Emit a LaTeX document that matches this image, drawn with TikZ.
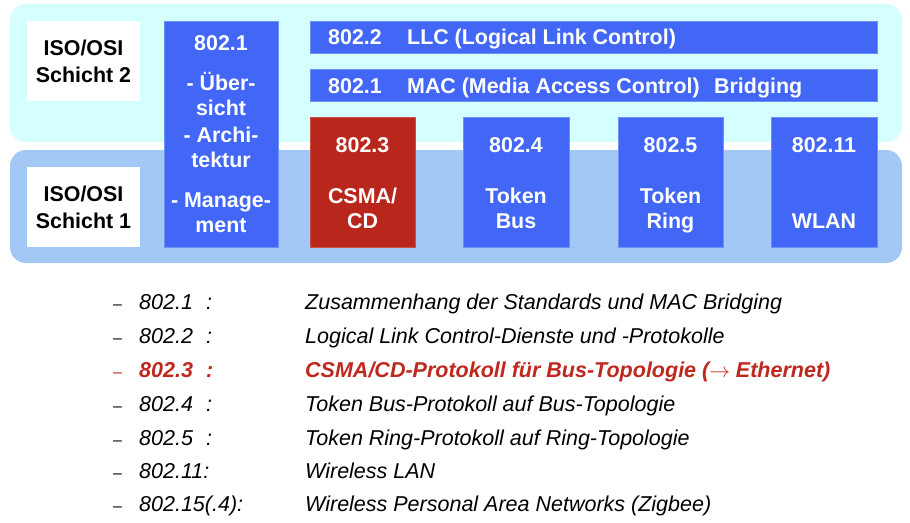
\documentclass[tikz,border=0pt]{standalone}
\usepackage{fontspec}
\setmainfont{Liberation Sans}
\definecolor{layertwo}{RGB}{213,254,254}
\definecolor{layerone}{RGB}{163,200,246}
\definecolor{stdblue}{RGB}{66,102,245}
\definecolor{stdedge}{RGB}{110,145,245}
\definecolor{stdred}{RGB}{185,38,27}
\definecolor{stdrededge}{RGB}{200,80,70}
\definecolor{listred}{RGB}{190,40,30}
\begin{document}
\begin{tikzpicture}[x=1pt,y=-1pt,
  layerbg/.style={rounded corners=16pt},
  stdbox/.style={fill=stdblue,draw=stdedge,line width=0.8pt,inner sep=0pt},
  redbox/.style={fill=stdred,draw=stdrededge,line width=0.8pt,inner sep=0pt},
  layerlabel/.style={fill=white,inner sep=0pt,minimum width=113pt,minimum height=80pt},
  labeltext/.style={font=\fontsize{21.4}{27}\selectfont\bfseries,align=center,inner sep=0pt},
  boxtext/.style={font=\fontsize{21.4}{24}\selectfont\bfseries,text=white,anchor=base,inner sep=0pt},
  bartext/.style={font=\fontsize{21.4}{24}\selectfont\bfseries,text=white,anchor=base west,inner sep=0pt},
  listtext/.style={font=\fontsize{21.5}{24}\selectfont\itshape,anchor=base west,inner sep=0pt},
  listdash/.style={font=\fontsize{16}{20}\selectfont,anchor=base west,inner sep=0pt},
  hilite/.style={text=listred,font=\fontsize{21.5}{24}\selectfont\bfseries\itshape}
]
\useasboundingbox (0,0) rectangle (910,522);
\fill[white] (0,0) rectangle (910,522);

% ISO/OSI layer bands
\fill[layertwo,layerbg] (10,4) rectangle (902,142);
\fill[layerone,layerbg] (10,150) rectangle (902,263);

% layer labels
\node[layerlabel] (lab2) at (83.5,61) {};
\node[labeltext] (lab2t) at (83.5,61.5) {ISO/OSI\\Schicht 2};
\node[layerlabel] (lab1) at (83.5,207) {};
\node[labeltext] (lab1t) at (83.5,207.5) {ISO/OSI\\Schicht 1};

% 802.1 overview column
\node[stdbox,minimum width=114pt,minimum height=226pt] (s8021) at (221,134) {};
\node[boxtext] (s8021a) at (221,50) {802.1};
\node[boxtext] (s8021b) at (221,90) {- Über-};
\node[boxtext] (s8021c) at (221,115) {sicht};
\node[boxtext] (s8021d) at (221,142) {- Archi-};
\node[boxtext] (s8021e) at (221,167) {tektur};
\node[boxtext] (s8021f) at (221,207) {- Manage-};
\node[boxtext] (s8021g) at (221,232) {ment};

% LLC and MAC bars
\node[stdbox,minimum width=567pt,minimum height=32pt] (llc) at (593.5,37) {};
\node[bartext] (llcnum) at (328,44) {802.2};
\node[bartext] (llcname) at (407,44) {LLC (Logical Link Control)};
\node[stdbox,minimum width=567pt,minimum height=32pt] (mac) at (593.5,85) {};
\node[bartext] (macnum) at (328,93) {802.1};
\node[bartext] (macname) at (407,93) {MAC (Media Access Control)};
\node[bartext] (macbridge) at (714,93) {Bridging};

% physical layer standards
\node[redbox,minimum width=105pt,minimum height=130pt] (s8023) at (362.5,182) {};
\node[boxtext] (s8023a) at (362.5,152) {802.3};
\node[boxtext] (s8023b) at (362.5,203) {CSMA/};
\node[boxtext] (s8023c) at (362.5,228) {CD};

\node[stdbox,minimum width=106pt,minimum height=130pt] (s8024) at (516,182) {};
\node[boxtext] (s8024a) at (516,152) {802.4};
\node[boxtext] (s8024b) at (516,203) {Token};
\node[boxtext] (s8024c) at (516,228) {Bus};

\node[stdbox,minimum width=105pt,minimum height=130pt] (s8025) at (670.5,182) {};
\node[boxtext] (s8025a) at (670.5,152) {802.5};
\node[boxtext] (s8025b) at (670.5,203) {Token};
\node[boxtext] (s8025c) at (670.5,228) {Ring};

\node[stdbox,minimum width=106pt,minimum height=130pt] (s80211) at (824,182) {};
\node[boxtext] (s80211a) at (824,152) {802.11};
\node[boxtext] (s80211b) at (824,228) {WLAN};

% list of standards
\node[listdash] (d1) at (113,309) {–};
\node[listtext] (n1) at (139,309) {802.1};
\node[listtext] (c1) at (206,309) {:};
\node[listtext] (t1) at (305,309) {Zusammenhang der Standards und MAC Bridging};

\node[listdash] (d2) at (113,343) {–};
\node[listtext] (n2) at (139,343) {802.2};
\node[listtext] (c2) at (206,343) {:};
\node[listtext] (t2) at (305,343) {Logical Link Control-Dienste und -Protokolle};

\node[listdash,text=listred] (d3) at (113,377) {–};
\node[listtext,hilite] (n3) at (139,377) {802.3};
\node[listtext,hilite] (c3) at (206,377) {:};
\node[listtext,hilite] (t3) at (305,377) {CSMA/CD-Protokoll für Bus-Topologie ($\rightarrow$ Ethernet)};

\node[listdash] (d4) at (113,411) {–};
\node[listtext] (n4) at (139,411) {802.4};
\node[listtext] (c4) at (206,411) {:};
\node[listtext] (t4) at (305,411) {Token Bus-Protokoll auf Bus-Topologie};

\node[listdash] (d5) at (113,445) {–};
\node[listtext] (n5) at (139,445) {802.5};
\node[listtext] (c5) at (206,445) {:};
\node[listtext] (t5) at (305,445) {Token Ring-Protokoll auf Ring-Topologie};

\node[listdash] (d6) at (113,478) {–};
\node[listtext] (n6) at (139,478) {802.11:};
\node[listtext] (t6) at (305,478) {Wireless LAN};

\node[listdash] (d7) at (113,511) {–};
\node[listtext] (n7) at (139,511) {802.15(.4):};
\node[listtext] (t7) at (305,511) {Wireless Personal Area Networks (Zigbee)};
\end{tikzpicture}
\end{document}
